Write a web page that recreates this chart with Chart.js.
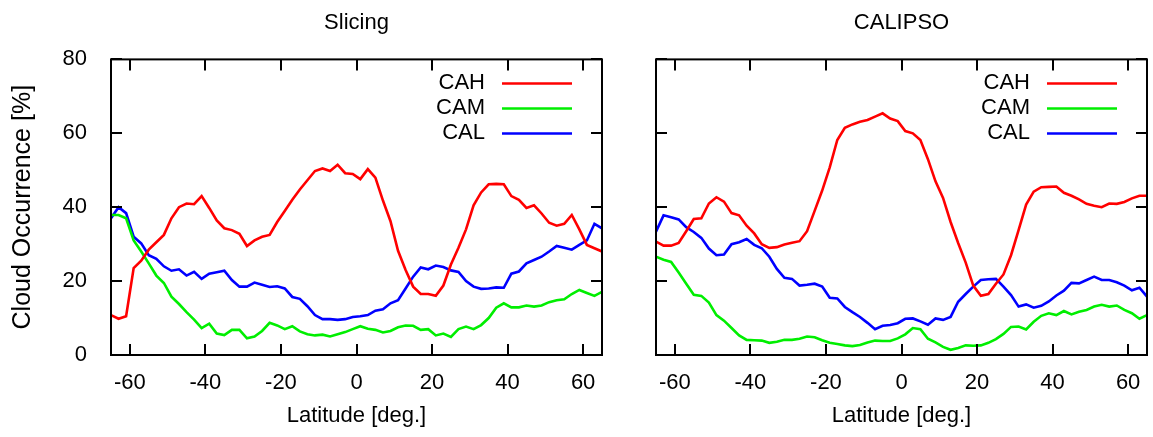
<!DOCTYPE html>
<html>
<head>
<meta charset="utf-8">
<title>Cloud occurrence by latitude</title>
<script src="https://cdn.jsdelivr.net/npm/chart.js@4.4.1/dist/chart.umd.min.js"></script>
<style>
    html, body { margin: 0; padding: 0; background: #fff; }
    #wrap { position: relative; width: 1153px; height: 437px; }
    #left { position: absolute; left: 0; top: 0; }
    #right { position: absolute; left: 620px; top: 0; }
</style>
</head>
<body>
<div id="wrap">
    <canvas id="left" width="620" height="437"></canvas>
    <canvas id="right" width="533" height="437"></canvas>
</div>
<script>
// latitude bins (deg.)
const latitudes = [-65, -63, -61, -59, -57, -55, -53, -51, -49, -47, -45, -43, -41, -39, -37, -35, -33, -31, -29, -27,
    -25, -23, -21, -19, -17, -15, -13, -11, -9, -7, -5, -3, -1, 1, 3, 5, 7, 9, 11, 13, 15, 17, 19, 21, 23, 25, 27, 29,
    31, 33, 35, 37, 39, 41, 43, 45, 47, 49, 51, 53, 55, 57, 59, 61, 63, 65];

// Slicing panel [%]
const slicingCAH = [10.8, 9.8, 10.5, 23.5, 25.5, 28.5, 30.5, 32.5, 37, 40, 41, 40.8, 43, 39.8, 36.4, 34.3, 33.8, 32.8, 29.5, 31,
    32, 32.5, 36, 39, 42, 44.8, 47.3, 49.8, 50.5, 49.8, 51.5, 49.2, 49, 47.6, 50.3, 48, 41.8, 36.2, 28.2, 23, 18.5, 16.5, 16.5, 16,
    18.8, 24.5, 29, 34, 40.5, 44, 46.2, 46.3, 46.2, 43, 42, 39.8, 40.5, 38.3, 35.8, 35, 35.5, 37.9, 34, 29.8, 28.9, 28];
const slicingCAM = [37.9, 37.9, 37, 31, 28, 24.8, 21.5, 19.5, 15.8, 13.8, 11.6, 9.6, 7.3, 8.5, 5.8, 5.4, 6.8, 6.8, 4.5, 5,
    6.5, 8.7, 8, 7, 7.8, 6.4, 5.6, 5.3, 5.5, 5, 5.6, 6.2, 7, 7.8, 7.1, 6.8, 6.1, 6.5, 7.5, 8, 7.9, 6.8, 7, 5.3,
    5.8, 4.9, 7, 7.7, 7, 8.1, 10, 12.8, 14, 12.9, 12.9, 13.4, 13.1, 13.4, 14.3, 14.8, 15.1, 16.5, 17.6, 16.8, 16, 17.1];
const slicingCAL = [37, 40, 38.4, 32, 30.2, 27, 26, 24, 22.8, 23.2, 21.5, 22.5, 20.6, 22, 22.4, 22.8, 20.3, 18.5, 18.5, 19.6,
    19, 18.4, 18.6, 18, 15.7, 15.2, 13.2, 10.8, 9.7, 9.7, 9.5, 9.7, 10.3, 10.5, 10.8, 12, 12.4, 14, 14.8, 18, 21.2, 23.7, 23.2, 24.2,
    23.8, 22.9, 22.5, 20, 18.5, 17.9, 18, 18.3, 18.2, 22, 22.6, 24.8, 25.7, 26.6, 28, 29.5, 29, 28.5, 29.8, 31, 35.5, 34.3];

// CALIPSO panel [%]
const calipsoCAH = [30.7, 29.6, 29.6, 30.3, 33.5, 36.8, 37, 41, 42.7, 41.5, 38.4, 37.8, 35, 32.9, 30, 29, 29.2, 29.9, 30.4, 30.8,
    33.5, 39, 44.5, 50.8, 58.2, 61.5, 62.4, 63.1, 63.6, 64.5, 65.4, 64, 63.3, 60.6, 60, 58.2, 53, 47, 42.5, 36, 30.3, 25, 18.8, 16,
    16.5, 19.3, 21.8, 27, 33.8, 40.7, 44.2, 45.4, 45.5, 45.6, 43.9, 43.1, 42.1, 40.9, 40.4, 40, 41, 40.9, 41.4, 42.4, 43.1, 43.1];
const calipsoCAM = [26.6, 25.8, 25.2, 22.3, 19.3, 16.3, 16, 14.2, 10.8, 9.3, 7.3, 5.3, 4.1, 4, 3.9, 3.3, 3.6, 4.1, 4.1, 4.4,
    5, 4.8, 4, 3.3, 3, 2.6, 2.4, 2.7, 3.4, 3.9, 3.8, 3.8, 4.5, 5.6, 7.3, 7, 4.4, 3.4, 2.2, 1.4, 1.9, 2.6, 2.5, 2.6,
    3.3, 4.3, 5.7, 7.6, 7.7, 6.9, 9, 10.6, 11.3, 10.8, 11.9, 11, 11.7, 12.2, 13.1, 13.6, 13.1, 13.4, 12.2, 11.3, 9.8, 10.8];
const calipsoCAL = [33.4, 37.8, 37.3, 36.7, 34.6, 33.3, 31.7, 28.8, 27, 27.2, 30, 30.5, 31.4, 29.8, 28.9, 26.6, 23.3, 20.9, 20.6, 18.8,
    19, 19.3, 18.5, 15.5, 15.3, 13, 11.6, 10.3, 8.7, 7, 7.9, 8.1, 8.6, 9.8, 9.9, 9.1, 8.2, 9.9, 9.5, 10.3, 14.4, 16.5, 18.5, 20.3,
    20.5, 20.6, 18.5, 16.2, 13.1, 13.7, 12.8, 13.3, 14.5, 16.1, 17.4, 19.5, 19.4, 20.3, 21.2, 20.3, 20.3, 19.7, 18.8, 17.5, 18.2, 15.8];

const seriesNames = ['CAH', 'CAM', 'CAL'];
const seriesColors = ['#ff0000', '#00ee00', '#0000ff'];
const xTicks = [-60, -40, -20, 0, 20, 40, 60];
const yTicks = [0, 20, 40, 60, 80];

Chart.defaults.font.family = '"Liberation Sans", Arial, Helvetica, sans-serif';
Chart.defaults.font.size = 22;
Chart.defaults.color = '#000';

// gnuplot style frame with inward ticks on all sides, plus the in-plot key
const framePlugin = {
    id: 'frame',
    afterDatasetsDraw(chart) {
        const { ctx, chartArea: a, scales } = chart;
        const tick = 11;
        ctx.save();
        ctx.strokeStyle = '#000';
        ctx.lineWidth = 2;
        ctx.beginPath();
        scales.x.ticks.forEach(t => {
            const px = Math.round(scales.x.getPixelForValue(t.value));
            ctx.moveTo(px, a.bottom);
            ctx.lineTo(px, a.bottom - tick);
            ctx.moveTo(px, a.top);
            ctx.lineTo(px, a.top + tick);
        });
        scales.y.ticks.forEach(t => {
            const py = Math.round(scales.y.getPixelForValue(t.value));
            ctx.moveTo(a.left, py);
            ctx.lineTo(a.left + tick, py);
            ctx.moveTo(a.right, py);
            ctx.lineTo(a.right - tick, py);
        });
        ctx.stroke();
        ctx.strokeRect(a.left, a.top, a.right - a.left, a.bottom - a.top);

        // key
        ctx.font = '22px "Liberation Sans", Arial, sans-serif';
        ctx.textAlign = 'right';
        ctx.textBaseline = 'middle';
        chart.data.datasets.forEach((ds, i) => {
            const y = a.top + 24 + i * 25;
            ctx.fillStyle = '#000';
            ctx.fillText(ds.label, a.right - 117, y);
            ctx.strokeStyle = ds.borderColor;
            ctx.lineWidth = 2.5;
            ctx.beginPath();
            ctx.moveTo(a.right - 100, y);
            ctx.lineTo(a.right - 30, y);
            ctx.stroke();
        });
        ctx.restore();
    }
};

function makeDatasets(values) {
    return values.map((vals, i) => ({
        label: seriesNames[i],
        data: latitudes.map((lat, j) => ({ x: lat, y: vals[j] })),
        borderColor: seriesColors[i],
        borderWidth: 2.6,
        pointRadius: 0,
        tension: 0,
        fill: false
    }));
}

function makeChart(canvasId, title, values, showY, padRight, yWidth) {
    const ctx = document.getElementById(canvasId).getContext('2d');
    return new Chart(ctx, {
        type: 'line',
        data: { datasets: makeDatasets(values) },
        options: {
            responsive: false,
            animation: false,
            layout: { padding: { left: 0, right: padRight, top: 0, bottom: 0 } },
            plugins: {
                legend: { display: false },
                tooltip: { enabled: false },
                title: {
                    display: true,
                    text: title,
                    fullSize: false,
                    font: { size: 22, weight: 'normal' },
                    padding: { top: 10, bottom: 23 }
                }
            },
            scales: {
                x: {
                    type: 'linear',
                    min: -65,
                    max: 65,
                    grid: { display: false },
                    border: { display: false },
                    afterBuildTicks: scale => { scale.ticks = xTicks.map(v => ({ value: v })); },
                    afterFit: scale => { scale.height = 82; },
                    ticks: { padding: 7, font: { size: 22 } },
                    title: {
                        display: true,
                        text: 'Latitude [deg.]',
                        font: { size: 22 },
                        padding: { top: 0, bottom: 8 }
                    }
                },
                y: {
                    min: 0,
                    max: 80,
                    grid: { display: false },
                    border: { display: false },
                    afterBuildTicks: scale => { scale.ticks = yTicks.map(v => ({ value: v })); },
                    afterFit: scale => { scale.width = yWidth; },
                    ticks: { display: showY, padding: 16, font: { size: 22 } },
                    title: {
                        display: showY,
                        text: 'Cloud Occurrence [%]',
                        font: { size: 25 },
                        padding: { top: 8, bottom: 0 }
                    }
                }
            }
        },
        plugins: [framePlugin]
    });
}

makeChart('left', 'Slicing', [slicingCAH, slicingCAM, slicingCAL], true, 18, 111);
makeChart('right', 'CALIPSO', [calipsoCAH, calipsoCAM, calipsoCAL], false, 6, 36);
</script>
</body>
</html>
